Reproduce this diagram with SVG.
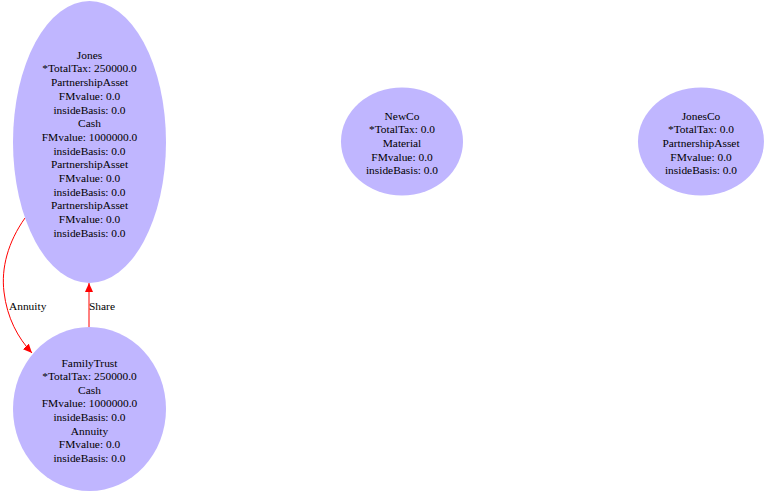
<svg xmlns="http://www.w3.org/2000/svg" width="768" height="495" viewBox="0 0 768 495">
<style>
.node ellipse{fill:#c0b6ff;stroke:none}
text{font-family:"Liberation Serif","Times New Roman",serif;font-size:11.4px;fill:#000;text-anchor:middle}
.edge path{fill:none;stroke:#ff0000;stroke-width:1}
.lbl{text-anchor:start}
</style>
<defs>
<marker id="ah" markerWidth="10" markerHeight="8" refX="9" refY="4" orient="auto" markerUnits="userSpaceOnUse">
<path d="M0,0 L9,4 L0,8 Z" fill="#ff0000"/>
</marker>
</defs>
<rect width="768" height="495" fill="#fff"/>
<g id="connectors">
<g class="edge" id="e_annuity">
<path d="M25,218 C8,242 1,268 4,292 C7,318 18,338 32,353" marker-end="url(#ah)"/>
<text class="lbl" x="9" y="310">Annuity</text>
</g>
<g class="edge" id="e_share">
<path d="M89,327 L89,283" marker-end="url(#ah)"/>
<text class="lbl" x="89" y="310">Share</text>
</g>
</g>
<g class="node" id="Jones">
<ellipse cx="89.5" cy="142" rx="76.5" ry="141"/>
<text x="89.5" y="58.7">Jones</text>
<text x="89.5" y="72.4">*TotalTax: 250000.0</text>
<text x="89.5" y="86.1">PartnershipAsset</text>
<text x="89.5" y="99.8">FMvalue: 0.0</text>
<text x="89.5" y="113.5">insideBasis: 0.0</text>
<text x="89.5" y="127.2">Cash</text>
<text x="89.5" y="140.9">FMvalue: 1000000.0</text>
<text x="89.5" y="154.6">insideBasis: 0.0</text>
<text x="89.5" y="168.3">PartnershipAsset</text>
<text x="89.5" y="182.0">FMvalue: 0.0</text>
<text x="89.5" y="195.7">insideBasis: 0.0</text>
<text x="89.5" y="209.4">PartnershipAsset</text>
<text x="89.5" y="223.1">FMvalue: 0.0</text>
<text x="89.5" y="236.8">insideBasis: 0.0</text>
</g>
<g class="node" id="FamilyTrust">
<ellipse cx="89.5" cy="409" rx="76.5" ry="82"/>
<text x="89.5" y="366.5">FamilyTrust</text>
<text x="89.5" y="380.1">*TotalTax: 250000.0</text>
<text x="89.5" y="393.7">Cash</text>
<text x="89.5" y="407.3">FMvalue: 1000000.0</text>
<text x="89.5" y="420.9">insideBasis: 0.0</text>
<text x="89.5" y="434.5">Annuity</text>
<text x="89.5" y="448.1">FMvalue: 0.0</text>
<text x="89.5" y="461.7">insideBasis: 0.0</text>
</g>
<g class="node" id="NewCo">
<ellipse cx="402" cy="141.5" rx="61" ry="54"/>
<text x="402" y="119.7">NewCo</text>
<text x="402" y="133.3">*TotalTax: 0.0</text>
<text x="402" y="146.9">Material</text>
<text x="402" y="160.5">FMvalue: 0.0</text>
<text x="402" y="174.1">insideBasis: 0.0</text>
</g>
<g class="node" id="JonesCo">
<ellipse cx="701" cy="141.5" rx="63" ry="54"/>
<text x="701" y="119.7">JonesCo</text>
<text x="701" y="133.3">*TotalTax: 0.0</text>
<text x="701" y="146.9">PartnershipAsset</text>
<text x="701" y="160.5">FMvalue: 0.0</text>
<text x="701" y="174.1">insideBasis: 0.0</text>
</g>
</svg>
